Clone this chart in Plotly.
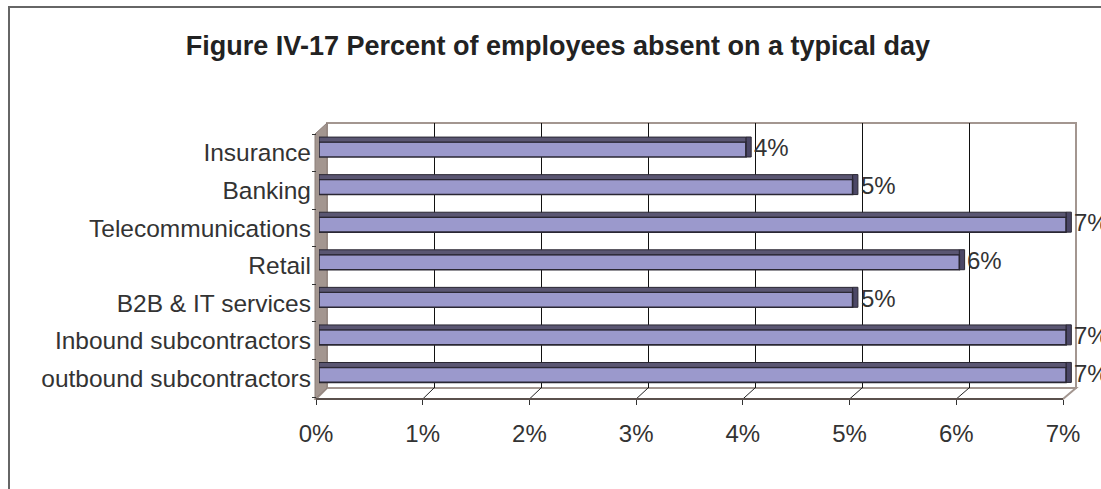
import plotly.graph_objects as go

# ---- data ----
categories = ["Insurance", "Banking", "Telecommunications", "Retail",
              "B2B & IT services", "Inbound subcontractors", "outbound subcontractors"]
values = [4, 5, 7, 6, 5, 7, 7]
value_labels = ["4%", "5%", "7%", "6%", "5%", "7%", "7%"]
tick_vals = [0, 1, 2, 3, 4, 5, 6, 7]
tick_text = ["0%", "1%", "2%", "3%", "4%", "5%", "6%", "7%"]
title_text = "Figure IV-17 Percent of employees absent on a typical day"

W, H = 1101, 489
def fx(p): return p / W
def fy(p): return 1 - p / H

FONT = "Liberation Sans, Arial, sans-serif"
WALL = "#a39690"

# bar plane: 0 at x=319 px, 7 at x=1066 px; extend range a bit so 3D side faces show
BAR_X0, BAR_X7 = 319, 1066
BAR_RMAX = 7.1
bar_dom_end = BAR_X0 + BAR_RMAX * (BAR_X7 - BAR_X0) / 7

fig = go.Figure()

# dummy trace to create back-wall grid subplot
fig.add_trace(go.Scatter(x=[0], y=[0], xaxis="x", yaxis="y", mode="markers",
                         marker=dict(opacity=0), hoverinfo="skip", showlegend=False))

# side faces
fig.add_trace(go.Bar(x=[0.05] * len(values), base=values, y=categories, orientation="h",
                     xaxis="x2", yaxis="y2", offset=-0.112, width=0.532,
                     marker=dict(color="#4b4766", line=dict(color="#2a2733", width=1)),
                     hoverinfo="skip", showlegend=False))
# front faces
fig.add_trace(go.Bar(x=values, y=categories, orientation="h", xaxis="x2", yaxis="y2",
                     offset=-0.112, width=0.40,
                     marker=dict(color="#9b99cc", line=dict(color="#2a2733", width=1.6)),
                     showlegend=False))
# top faces
fig.add_trace(go.Bar(x=values, y=categories, orientation="h", xaxis="x2", yaxis="y2",
                     offset=0.288, width=0.13,
                     marker=dict(color="#5a5672", line=dict(color="#2a2733", width=1)),
                     hoverinfo="skip", showlegend=False))
# dummy for front tick axis
fig.add_trace(go.Scatter(x=[0], y=[categories[0]], xaxis="x3", yaxis="y2", mode="markers",
                         marker=dict(opacity=0), hoverinfo="skip", showlegend=False))

annotations = []
for c, v, t in zip(categories, values, value_labels):
    annotations.append(dict(x=v, y=c, xref="x2", yref="y2", text=t, showarrow=False,
                            xanchor="left", yanchor="middle", xshift=6, yshift=5,
                            font=dict(family=FONT, size=24, color="#333333")))

shapes = [
    # outer frame
    dict(type="rect", xref="paper", yref="paper", x0=fx(9), y0=fy(530), x1=fx(1140), y1=fy(7),
         line=dict(color="#666666", width=2), layer="below"),
    # back wall
    dict(type="rect", xref="paper", yref="paper", x0=fx(327), y0=fy(388), x1=fx(1076), y1=fy(123),
         line=dict(color=WALL, width=2), fillcolor="white", layer="below"),
    # floor
    dict(type="path", xref="paper", yref="paper",
         path=f"M {fx(316)},{fy(399)} L {fx(327)},{fy(388)} L {fx(1076)},{fy(388)} L {fx(1063)},{fy(399)} Z",
         line=dict(color=WALL, width=2), fillcolor="white", layer="below"),
    # left wall
    dict(type="path", xref="paper", yref="paper",
         path=f"M {fx(315)},{fy(134)} L {fx(327)},{fy(123)} L {fx(327)},{fy(388)} L {fx(315)},{fy(399)} Z",
         line=dict(color="#8c7e78", width=1), fillcolor=WALL, layer="below"),
]
# floor grid diagonals (from front tick positions to back wall gridlines)
for k in tick_vals[1:-1]:
    xf = 316 + k * (1063 - 316) / 7
    xb = 327 + k * (1076 - 327) / 7
    shapes.append(dict(type="line", xref="paper", yref="paper", x0=fx(xf), y0=fy(399),
                       x1=fx(xb), y1=fy(388), line=dict(color="#222222", width=1), layer="below"))

fig.update_layout(
    template="none",
    width=W, height=H, autosize=False,
    margin=dict(l=0, r=0, t=0, b=0, pad=0),
    paper_bgcolor="white", plot_bgcolor="rgba(0,0,0,0)",
    barmode="overlay", showlegend=False,
    title=dict(text=title_text, x=fx(558), xanchor="center", y=fy(46), yanchor="middle",
               automargin=False,
               font=dict(family=FONT, size=27, color="#222222", weight="bold")),
    xaxis=dict(domain=[fx(327), fx(1076)], anchor="y", range=[0, 7], automargin=False,
               tickvals=tick_vals[1:-1], showgrid=True, gridcolor="#111111", gridwidth=1,
               showticklabels=False, ticks="", zeroline=False, showline=False),
    yaxis=dict(domain=[fy(388), fy(123)], anchor="x", range=[0, 1], visible=False,
               automargin=False),
    xaxis2=dict(domain=[fx(BAR_X0), fx(bar_dom_end)], anchor="y2", range=[0, BAR_RMAX],
                visible=False, automargin=False),
    yaxis2=dict(domain=[fy(397), fy(134)], anchor="free", position=fx(316), type="category",
                categoryorder="array", categoryarray=categories[::-1], automargin=False,
                range=[-0.5, len(categories) - 0.5],
                tickson="boundaries", ticks="outside", ticklen=4, tickcolor="#333333",
                showgrid=False, showline=False, zeroline=False, ticklabelstandoff=5,
                tickfont=dict(family=FONT, size=24.5, color="#333333")),
    xaxis3=dict(domain=[fx(316), fx(1063)], anchor="free", position=fy(399), range=[0, 7],
                automargin=False,
                tickvals=tick_vals, ticktext=tick_text, ticks="outside", ticklen=5,
                tickcolor="#333333", showline=True, linecolor="#5a504c", linewidth=2,
                showgrid=False, zeroline=False, ticklabelstandoff=8,
                tickfont=dict(family=FONT, size=24, color="#333333")),
    shapes=shapes,
    annotations=annotations,
)

fig.write_html("out.html",
               config={"displayModeBar": False},
               post_script="document.body.style.margin='0';document.body.style.padding='0';")
